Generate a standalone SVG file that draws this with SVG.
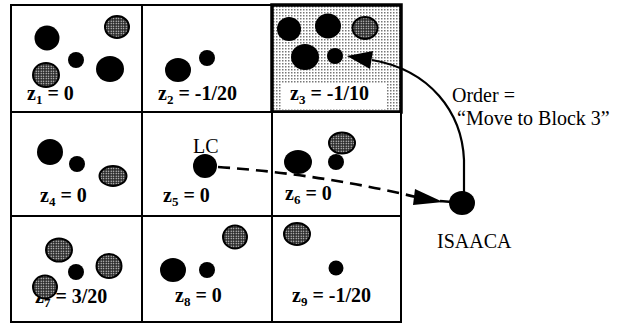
<svg xmlns="http://www.w3.org/2000/svg" width="620" height="325" viewBox="0 0 620 325">
<defs>
<pattern id="dots" width="3" height="3" patternUnits="userSpaceOnUse">
<rect width="3" height="3" fill="#fff"/>
<rect width="1.5" height="1.5" fill="#777"/>
</pattern>
<pattern id="stip" width="2.5" height="2.5" patternUnits="userSpaceOnUse">
<rect width="2.5" height="2.5" fill="#222"/>
<rect x="0.6" y="0.6" width="1.2" height="1.2" fill="#fff"/>
</pattern>
</defs>
<style>
.cell{fill:#fff;stroke:#000;stroke-width:2}
.blk{fill:#000}
.gry{fill:url(#stip);stroke:#000;stroke-width:2}
.lbl{font-family:"Liberation Serif","Times New Roman",serif;font-size:20px;fill:#000}
.z{font-weight:bold}
.sub{font-size:13px}
.con{fill:none;stroke:#000;stroke-width:2.2}
.dash{fill:none;stroke:#000;stroke-width:2.6;stroke-dasharray:12 7}
</style>
<rect width="620" height="325" fill="#fff"/>

<g id="block1">
<rect class="cell" x="11" y="5" width="131" height="107"/>
<circle class="blk" cx="47" cy="38" r="12.5"/>
<ellipse class="gry" cx="117" cy="27" rx="12" ry="11"/>
<circle class="blk" cx="76" cy="60" r="8"/>
<ellipse class="gry" cx="46" cy="75" rx="13" ry="12"/>
<ellipse class="blk" cx="110" cy="69" rx="14" ry="13"/>
<text class="lbl z" x="27" y="100">z<tspan class="sub" dy="4">1</tspan><tspan dy="-4"> = 0</tspan></text>
</g>

<g id="block2">
<rect class="cell" x="142" y="5" width="130" height="107"/>
<ellipse class="blk" cx="178" cy="70" rx="13" ry="12"/>
<circle class="blk" cx="207" cy="58" r="8"/>
<text class="lbl z" x="158" y="100">z<tspan class="sub" dy="4">2</tspan><tspan dy="-4"> = -1/20</tspan></text>
</g>

<g id="block3">
<rect x="272" y="5" width="129" height="107" fill="url(#dots)" stroke="#000" stroke-width="3.5"/>
<rect x="281" y="84" width="106" height="25" fill="#fff"/>
<circle class="blk" cx="289" cy="29" r="12"/>
<ellipse class="blk" cx="328" cy="26" rx="13" ry="12.5"/>
<ellipse class="gry" cx="365" cy="28" rx="12.5" ry="11"/>
<ellipse class="blk" cx="305" cy="57" rx="14" ry="13"/>
<circle class="blk" cx="335" cy="56" r="8"/>
<text class="lbl z" x="290" y="100">z<tspan class="sub" dy="4">3</tspan><tspan dy="-4"> = -1/10</tspan></text>
</g>

<g id="block4">
<rect class="cell" x="11" y="112" width="131" height="104"/>
<circle class="blk" cx="50" cy="152" r="13"/>
<circle class="blk" cx="77" cy="164" r="8"/>
<ellipse class="gry" cx="113" cy="176" rx="13.5" ry="10"/>
<text class="lbl z" x="40" y="202">z<tspan class="sub" dy="4">4</tspan><tspan dy="-4"> = 0</tspan></text>
</g>

<g id="block5">
<rect class="cell" x="142" y="112" width="130" height="104"/>
<text class="lbl" x="193" y="153">LC</text>
<circle id="LC" class="blk" cx="205" cy="166" r="12"/>
<text class="lbl z" x="163" y="202">z<tspan class="sub" dy="4">5</tspan><tspan dy="-4"> = 0</tspan></text>
</g>

<g id="block6">
<rect class="cell" x="272" y="112" width="129" height="104"/>
<ellipse class="gry" cx="342" cy="143" rx="13" ry="10.5"/>
<circle class="blk" cx="336" cy="162" r="8"/>
<ellipse class="blk" cx="298" cy="162" rx="14" ry="12"/>
<text class="lbl z" x="285" y="200">z<tspan class="sub" dy="4">6</tspan><tspan dy="-4"> = 0</tspan></text>
</g>

<g id="block7">
<rect class="cell" x="11" y="216" width="131" height="106"/>
<ellipse class="gry" cx="59" cy="250" rx="13" ry="11.5"/>
<circle class="blk" cx="76" cy="272" r="8"/>
<ellipse class="gry" cx="109" cy="266" rx="12.5" ry="12"/>
<text class="lbl z" x="35" y="303">z<tspan class="sub" dy="4">7</tspan><tspan dy="-4"> = 3/20</tspan></text>
<ellipse class="gry" cx="45" cy="287" rx="12" ry="11.5"/>
</g>

<g id="block8">
<rect class="cell" x="142" y="216" width="130" height="106"/>
<ellipse class="blk" cx="173" cy="270" rx="13" ry="12"/>
<circle class="blk" cx="207" cy="270" r="8"/>
<ellipse class="gry" cx="235" cy="237" rx="12" ry="11.5"/>
<text class="lbl z" x="175" y="302">z<tspan class="sub" dy="4">8</tspan><tspan dy="-4"> = 0</tspan></text>
</g>

<g id="block9">
<rect class="cell" x="272" y="216" width="129" height="106"/>
<ellipse class="gry" cx="297" cy="234" rx="13" ry="11"/>
<circle class="blk" cx="336" cy="268" r="7.5"/>
<text class="lbl z" x="292" y="302">z<tspan class="sub" dy="4">9</tspan><tspan dy="-4"> = -1/20</tspan></text>
</g>

<g id="isaaca">
<ellipse class="blk" cx="462" cy="203" rx="13" ry="12"/>
<text class="lbl" x="437" y="248">ISAACA</text>
</g>

<g id="connectors">
<path class="con" d="M 464 192 L 464 160 C 462 112 430 70 372 60"/>
<polygon points="347,56 373,51 370,69" fill="#000"/>
<path class="dash" d="M 218 167 Q 320 174 416 197"/>
<polygon points="415,189 443,202 413,205" fill="#000"/>
<line x1="440" y1="201" x2="452" y2="202" stroke="#000" stroke-width="2.5"/>
</g>

<text class="lbl" x="452" y="102">Order =</text>
<text class="lbl" x="457" y="125">“Move to Block 3”</text>
</svg>
